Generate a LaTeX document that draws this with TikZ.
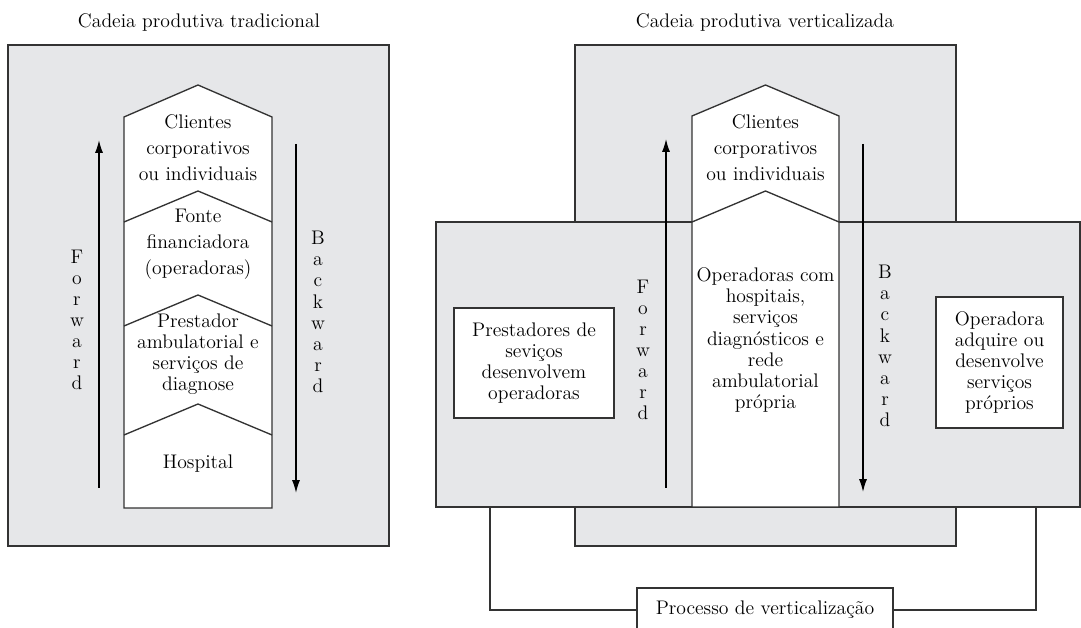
\documentclass[tikz,border=0pt]{standalone}
\usetikzlibrary{arrows.meta}
\definecolor{panelgray}{HTML}{E6E7E9}
\definecolor{edgegray}{HTML}{333333}

\begin{document}
\begin{tikzpicture}[x=0.025cm,y=-0.025cm,line width=0.95pt,
	panel/.style={draw=edgegray,fill=panelgray},
	column/.style={draw=edgegray,fill=white},
	txt/.style={align=center,inner sep=0pt,font=\fontsize{14}{15}\selectfont},
	loose/.style={font=\fontsize{14}{18.4}\selectfont},
	flow/.style={draw=black,-{Latex[length=3.2mm,width=2mm]}},
	textbox/.style={draw=edgegray,fill=white,align=center,inner sep=0pt,font=\fontsize{14}{15}\selectfont},
	link/.style={draw=edgegray}]
	\useasboundingbox (0,0) rectangle (1081,628);

	% cadeia tradicional
	\node[txt] (T_title) at (199,22) {Cadeia produtiva tradicional};
	\draw[panel] (8,45) rectangle (389,546);
	\draw[column] (124,117) -- (198,85) -- (272,117) -- (272,508) -- (124,508) -- cycle;
	\draw[edgegray] (124,222) -- (198,191) -- (272,222);
	\draw[edgegray] (124,326) -- (198,295) -- (272,326);
	\draw[edgegray] (124,435) -- (198,404) -- (272,435);
	\node[txt,loose] (T_cli) at (198,148) {Clientes\\corporativos\\ou individuais};
	\node[txt,loose] (T_fon) at (198,244) {Fonte\\financiadora\\(operadoras)};
	\node[txt] (T_pre) at (198,354) {Prestador\\ambulatorial e\\serviços de\\diagnose};
	\node[txt] (T_hos) at (198,464) {Hospital};
	\node[txt] (T_fw) at (77,320) {F\\o\\r\\w\\a\\r\\d};
	\node[txt] (T_bw) at (318,312) {B\\a\\c\\k\\w\\a\\r\\d};
	\coordinate (T_fw0) at (99,488);
	\coordinate (T_fw1) at (99,140);
	\coordinate (T_bw0) at (296,144);
	\coordinate (T_bw1) at (296,493);
	\draw[flow] (T_fw0) -- (T_fw1);
	\draw[flow] (T_bw0) -- (T_bw1);

	% cadeia verticalizada
	\node[txt] (V_title) at (765,22) {Cadeia produtiva verticalizada};
	\draw[panel] (575,45) rectangle (956,546);
	\draw[panel] (436,222) rectangle (1080,507);
	\draw[column] (692,116) -- (765.5,85) -- (839,116) -- (839,507) -- (692,507) -- cycle;
	\draw[edgegray] (692,222) -- (765.5,191) -- (839,222);
	\node[txt,loose] (V_cli) at (765.5,148) {Clientes\\corporativos\\ou individuais};
	\node[txt] (V_ope) at (765.5,340) {Operadoras com\\hospitais,\\serviços\\diagnósticos e\\rede\\ambulatorial\\própria};
	\node[textbox,minimum width=4cm,minimum height=2.75cm] (V_pre) at (534,363)
		{Prestadores de\\seviços\\desenvolvem\\operadoras};
	\node[textbox,minimum width=3.175cm,minimum height=3.275cm] (V_adq) at (999.5,362.5)
		{Operadora\\adquire ou\\desenvolve\\serviços\\próprios};
	\node[txt] (V_fw) at (643,350) {F\\o\\r\\w\\a\\r\\d};
	\node[txt] (V_bw) at (885,346) {B\\a\\c\\k\\w\\a\\r\\d};
	\coordinate (V_fw0) at (666,488);
	\coordinate (V_fw1) at (666,139);
	\coordinate (V_bw0) at (863,144);
	\coordinate (V_bw1) at (863,492);
	\draw[flow] (V_fw0) -- (V_fw1);
	\draw[flow] (V_bw0) -- (V_bw1);

	% processo
	\node[textbox,minimum width=6.4cm,minimum height=1.1cm] (V_proc) at (765,610)
		{Processo de verticalização};
	\coordinate (V_left) at (490,507);
	\coordinate (V_right) at (1036,507);
	\draw[link] (V_left) |- (V_proc.west);
	\draw[link] (V_right) |- (V_proc.east);
\end{tikzpicture}
\end{document}
